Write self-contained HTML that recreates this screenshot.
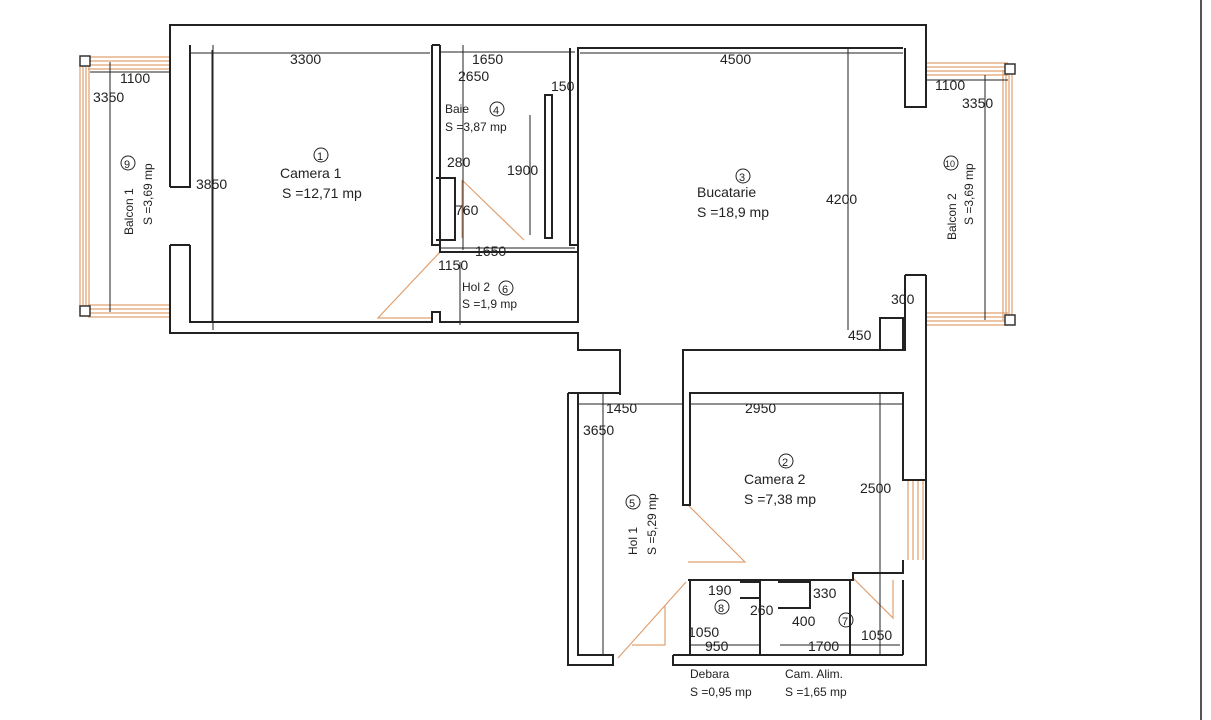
<!DOCTYPE html>
<html><head><meta charset="utf-8"><style>
html,body{margin:0;padding:0;background:#fff;}
svg{display:block}
text{font-family:"Liberation Sans",sans-serif;fill:#222;}
</style></head><body>
<svg width="1211" height="720" viewBox="0 0 1211 720" xmlns="http://www.w3.org/2000/svg">
<rect width="1211" height="720" fill="#fff"/>
<line x1="1201" y1="0" x2="1201" y2="720" stroke="#555" stroke-width="2"/>
<g stroke="#e0a070" stroke-width="1.2" fill="none">
<!-- left balcony -->
<path d="M88,57H170M88,61H170M88,65H170M88,69H170"/>
<path d="M80,62V312M83,62V312M86,62V312M89,62V312"/>
<path d="M88,305H170M88,309H170M88,313H170M88,317H170"/>
<!-- right balcony -->
<path d="M926,63H1008M926,67H1008M926,71H1008M926,75H1008"/>
<path d="M1003,70V320M1006,70V320M1009,70V320M1012,70V320"/>
<path d="M926,313H1008M926,317H1008M926,321H1008M926,325H1008"/>
<!-- window camera 2 -->
<path d="M908,480V560M913,480V560M918,480V560M923,480V560"/>
<!-- doors -->
<path d="M440,252L378,318H432"/>
<path d="M462,180V238M462,180L524,240"/>
<path d="M688,505L745,562H688"/>
<path d="M686,582L618,658M665,605V645H632"/>
<path d="M853,578L893,618V580"/>
</g>
<g fill="#fff" stroke="#333" stroke-width="1.5">
<rect x="80" y="56" width="10" height="10"/><rect x="80" y="306" width="10" height="10"/>
<rect x="1005" y="64" width="10" height="10"/><rect x="1005" y="315" width="10" height="10"/>
</g>
<g stroke="#222" stroke-width="2" fill="none">
<!-- outer walls -->
<path d="M170,187V25H926V107H905V48"/>
<path d="M170,245V333H578V350H620V395"/>
<path d="M190,45V187H170M190,245V322H432V312H440V322H578V48H903"/>
<path d="M170,245H190"/>
<path d="M926,275V665H673V655"/>
<path d="M905,275H926M905,275V350H683V505H690V393H903V480H926M903,560V573H853V580H690V655"/>
<path d="M568,393H578V655H613V665H568V393"/>
<path d="M578,393H620"/>
<!-- camera 1 right / baie -->
<path d="M432,45V245H440V252H578M440,45V245M432,45H440"/>
<path d="M570,48V245H578"/>
<path d="M545,95V238H552V95Z"/>
<path d="M436,178H455V240H436"/>
<!-- kitchen block -->
<path d="M880,318H903V350H880Z"/>
<!-- debara / cam alim -->
<path d="M688,580H760V655H688M778,580H850V655H778"/>
<path d="M740,582H760V598H740M778,582H810V608H778"/>
<path d="M673,655H903"/>
<path d="M903,580V655"/>
</g>
<g stroke="#222" stroke-width="1" fill="none">
<path d="M190,53H430M212,50V322M213,45V330"/>
<path d="M90,72H170M110,62V312"/>
<path d="M440,52H575M463,45V250M440,248H575M530,115V235"/>
<path d="M580,53H903M848,48V330M460,262V325"/>
<path d="M926,80H1008M985,75V320"/>
<path d="M578,404H683M690,404H903M603,393V655M880,393V655"/>
<path d="M690,645H760M780,645H900"/>
</g>
<g font-size="14">
<text x="290" y="64" fill="#555">3300</text>
<text x="120" y="83">1100</text>
<text x="93" y="102">3350</text>
<text x="196" y="189">3850</text>
<text x="472" y="64">1650</text>
<text x="458" y="81">2650</text>
<text x="551" y="91">150</text>
<text x="447" y="167">280</text>
<text x="507" y="175">1900</text>
<text x="455" y="215">760</text>
<text x="475" y="256">1650</text>
<text x="438" y="270">1150</text>
<text x="720" y="64">4500</text>
<text x="826" y="204">4200</text>
<text x="935" y="90">1100</text>
<text x="962" y="108">3350</text>
<text x="891" y="304">300</text>
<text x="848" y="340">450</text>
<text x="606" y="413">1450</text>
<text x="745" y="413">2950</text>
<text x="583" y="435">3650</text>
<text x="860" y="493">2500</text>
<text x="708" y="595">190</text>
<text x="813" y="598">330</text>
<text x="750" y="615">260</text>
<text x="792" y="626">400</text>
<text x="688" y="637">1050</text>
<text x="861" y="640">1050</text>
<text x="705" y="651">950</text>
<text x="808" y="651">1700</text>
</g>
<g font-size="14" fill="#222">
<circle cx="321" cy="155" r="7" fill="none" stroke="#222"/><text x="317" y="160" font-size="11">1</text>
<text x="280" y="178">Camera 1</text><text x="282" y="198">S =12,71 mp</text>
<circle cx="497" cy="109" r="7" fill="none" stroke="#222"/><text x="493" y="114" font-size="11">4</text>
<text x="445" y="113" font-size="12">Baie</text><text x="445" y="131" font-size="12">S =3,87 mp</text>
<circle cx="743" cy="176" r="7" fill="none" stroke="#222"/><text x="739" y="181" font-size="11">3</text>
<text x="697" y="197">Bucatarie</text><text x="697" y="217">S =18,9 mp</text>
<circle cx="506" cy="288" r="7" fill="none" stroke="#222"/><text x="502" y="293" font-size="11">6</text>
<text x="462" y="291" font-size="12">Hol 2</text><text x="462" y="308" font-size="12">S =1,9 mp</text>
<circle cx="786" cy="461" r="7" fill="none" stroke="#222"/><text x="782" y="466" font-size="11">2</text>
<text x="744" y="484">Camera 2</text><text x="744" y="504">S =7,38 mp</text>
<circle cx="722" cy="607" r="7" fill="none" stroke="#222"/><text x="718" y="612" font-size="11">8</text>
<circle cx="846" cy="620" r="7" fill="none" stroke="#222"/><text x="842" y="625" font-size="11">7</text>
<text x="690" y="678" font-size="12">Debara</text><text x="690" y="696" font-size="12">S =0,95 mp</text>
<text x="785" y="678" font-size="12">Cam. Alim.</text><text x="785" y="696" font-size="12">S =1,65 mp</text>
<g transform="translate(133,235) rotate(-90)"><text font-size="12">Balcon 1</text></g>
<g transform="translate(152,225) rotate(-90)"><text font-size="12">S =3,69 mp</text></g>
<circle cx="128" cy="163" r="7" fill="none" stroke="#222"/><text x="124" y="168" font-size="11">9</text>
<g transform="translate(956,240) rotate(-90)"><text font-size="12">Balcon 2</text></g>
<g transform="translate(973,225) rotate(-90)"><text font-size="12">S =3,69 mp</text></g>
<circle cx="951" cy="163" r="7" fill="none" stroke="#222"/><text x="945" y="167" font-size="9">10</text>
<g transform="translate(637,555) rotate(-90)"><text font-size="12">Hol 1</text></g>
<g transform="translate(656,555) rotate(-90)"><text font-size="12">S =5,29 mp</text></g>
<circle cx="633" cy="502" r="7" fill="none" stroke="#222"/><text x="629" y="507" font-size="11">5</text>
</g>
</svg>
</body></html>
